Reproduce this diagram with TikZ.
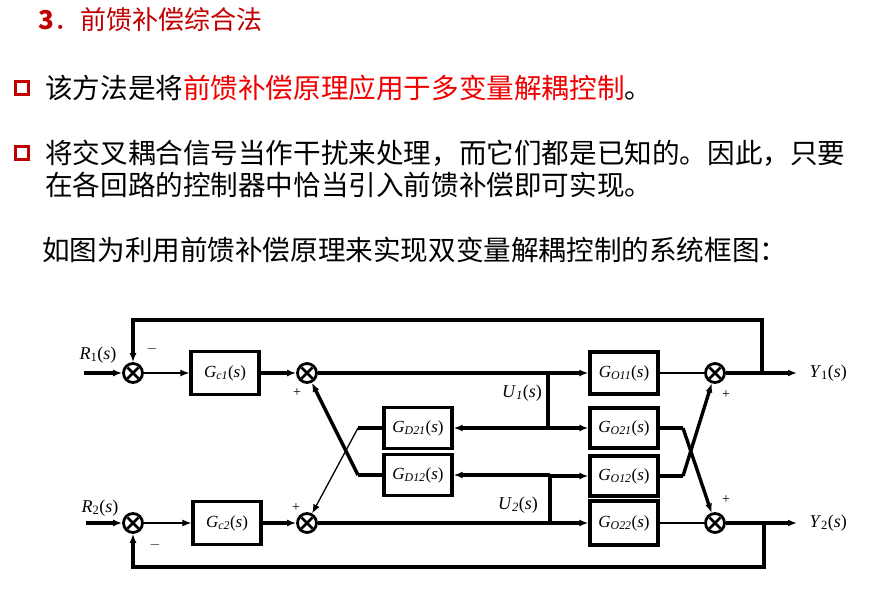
\documentclass[tikz,border=0pt]{standalone}
\usepackage{fontspec}
\setmainfont{Liberation Serif}
\newfontfamily\cjk{Noto Sans CJK SC}
\usetikzlibrary{arrows.meta}
\definecolor{tred}{RGB}{192,0,0}
\definecolor{bred}{RGB}{240,0,0}
\newcommand{\tf}[3]{\textit{#1}\textsubscript{\textit{#2}}(\textit{#3})}
\begin{document}
\begin{tikzpicture}[x=1pt,y=-1pt,
  blk/.style={draw,line width=3.3pt,minimum width=68pt,inner sep=0pt,font=\fontsize{17}{17}\selectfont},
  sumc/.style={circle,draw,line width=2.8pt,minimum size=19pt,inner sep=0pt,
    path picture={\draw[line width=2.6pt] (path picture bounding box.north west)++(4pt,-4pt) -- ([shift={(-4pt,4pt)}]path picture bounding box.south east);
    \draw[line width=2.6pt] ([shift={(4pt,4pt)}]path picture bounding box.south west) -- ([shift={(-4pt,-4pt)}]path picture bounding box.north east);}},
  thk/.style={line width=3.4pt},
  thn/.style={line width=1.3pt},
  arr/.style={-{Latex[length=9pt,width=7pt]}},
  lbl/.style={font=\fontsize{18}{18}\selectfont},
  sgn/.style={font=\fontsize{14}{14}\selectfont},
  bul/.style={draw=tred,line width=2.4pt,minimum size=13pt,inner sep=0pt},
  cn/.style={anchor=west,inner sep=0pt,font=\cjk\fontsize{27.6}{28}\selectfont},
  cnt/.style={anchor=west,inner sep=0pt,font=\cjk\fontsize{26}{26}\selectfont}]
\useasboundingbox (0,0) rectangle (887,598);
% texts
\node[cnt,text=tred] (t0) at (38,20) {\textbf{3}．前馈补偿综合法};
\node[bul] (b1) at (22,88) {};
\node[cn] (t1) at (45,88) {该方法是将\textcolor{bred}{前馈补偿原理应用于多变量解耦控制}。};
\node[bul] (b2) at (22,153) {};
\node[cn] (t2) at (45,153) {将交叉耦合信号当作干扰来处理，而它们都是已知的。因此，只要};
\node[cn] (t3) at (45,185) {在各回路的控制器中恰当引入前馈补偿即可实现。};
\node[cn] (t4) at (42,250) {如图为利用前馈补偿原理来实现双变量解耦控制的系统框图：};
% blocks
\node[sumc] (s1) at (133,373) {};
\node[sumc] (s2) at (133,523) {};
\node[sumc] (s3) at (307,373) {};
\node[sumc] (s4) at (307,523) {};
\node[sumc] (s5) at (715,373) {};
\node[sumc] (s6) at (715,523) {};
\node[blk,minimum height=43pt] (gc1) at (225,373) {\tf{G}{c1}{s}};
\node[blk,minimum height=43pt] (gc2) at (227,523) {\tf{G}{c2}{s}};
\node[blk,minimum height=42pt] (go11) at (624,373) {\tf{G}{O11}{s}};
\node[blk,minimum height=40pt] (go21) at (624,428) {\tf{G}{O21}{s}};
\node[blk,minimum height=40pt] (go12) at (624,476) {\tf{G}{O12}{s}};
\node[blk,minimum height=44pt] (go22) at (624,523) {\tf{G}{O22}{s}};
\node[blk,minimum height=41pt] (gd21) at (418,428) {\tf{G}{D21}{s}};
\node[blk,minimum height=41pt] (gd12) at (418,475) {\tf{G}{D12}{s}};
% coordinates
\coordinate (r1) at (84,373);
\coordinate (r2) at (86,523);
\coordinate (y1) at (797,373);
\coordinate (y2) at (797,523);
\coordinate (u1) at (548,373);
\coordinate (u2) at (550,523);
\coordinate (d1) at (358,428);
\coordinate (d2) at (358,475);
\coordinate (o1) at (683,428);
\coordinate (o2) at (683,476);
% connections
\draw[thk,arr] (r1) -- (s1);
\draw[thk,arr] (r2) -- (s2);
\draw[thn,arr] (s1) -- (gc1);
\draw[thn,arr] (s2) -- (gc2);
\draw[thk,arr] (gc1) -- (s3);
\draw[thk,arr] (gc2) -- (s4);
\draw[thk,arr] (s3) -- (go11);
\draw[thk,arr] (s4) -- (go22);
\draw[thk] (u1) -- (548,428);
\draw[thk,arr] (548,428) -- (go21);
\draw[thk,arr] (548,428) -- (gd21);
\draw[thk] (u2) -- (550,476);
\draw[thk,arr] (550,476) -- (go12);
\draw[thk,arr] (550,475) -- (gd12);
\draw[thk] (gd21) -- (d1);
\draw[thn,arr] (d1) -- (s4);
\draw[thk] (gd12) -- (d2);
\draw[thk,arr] (d2) -- (s3);
\draw[thn] (go11) -- (s5);
\draw[thn] (go22) -- (s6);
\draw[thk] (go21.east) -- (o1);
\draw[thk,arr] (o1) -- (s6);
\draw[thk] (go12.east) -- (o2);
\draw[thk,arr] (o2) -- (s5);
\draw[thk,arr] (s5) -- (y1);
\draw[thk,arr] (s6) -- (y2);
\draw[thk,arr] (762,373) -- (762,320) -- (133,320) -- (s1);
\draw[thk,arr] (764,523) -- (764,567) -- (133,567) -- (s2);
% labels
\node[lbl] (lr1) at (98,355) {\textit{R}\textsubscript{1}(\textit{s})};
\node[lbl] (lr2) at (100,508) {\textit{R}\textsubscript{2}(\textit{s})};
\node[lbl,anchor=west] (ly1) at (806,373) {\textit{Y}\textsubscript{1}(\textit{s})};
\node[lbl,anchor=west] (ly2) at (806,523) {\textit{Y}\textsubscript{2}(\textit{s})};
\node[lbl] (lu1) at (522,393) {\tf{U}{1}{s}};
\node[lbl] (lu2) at (518,505) {\tf{U}{2}{s}};
\node[sgn] (m1) at (152,349) {$-$};
\node[sgn] (m2) at (155,545) {$-$};
\node[sgn] (p1) at (297,393) {+};
\node[sgn] (p2) at (296,508) {+};
\node[sgn] (p3) at (726,395) {+};
\node[sgn] (p4) at (726,500) {+};
\end{tikzpicture}
\end{document}
